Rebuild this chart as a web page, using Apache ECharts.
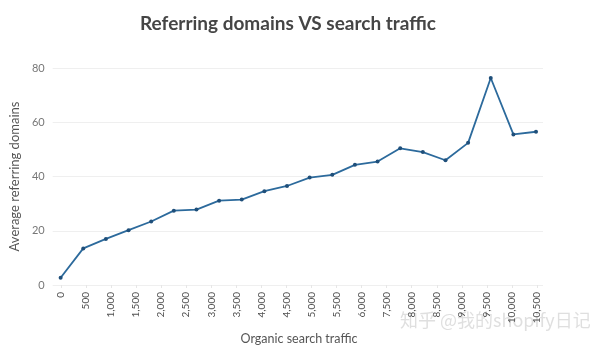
<!DOCTYPE html>
<html>
<head>
<meta charset="utf-8">
<script src="https://cdn.jsdelivr.net/npm/echarts@6/dist/echarts.min.js"></script>
<style>
  html, body { margin: 0; padding: 0; background: #fff; }
  #chart { width: 600px; height: 350px; }
</style>
</head>
<body>
<div id="chart"></div>
<script>
// Organic search traffic buckets (step 500) and the average referring domains per bucket
const trafficBuckets = [0, 500, 1000, 1500, 2000, 2500, 3000, 3500, 4000, 4500, 5000,
  5500, 6000, 6500, 7000, 7500, 8000, 8500, 9000, 9500, 10000, 10500];
const avgReferringDomains = [2.7, 13.5, 17.0, 20.2, 23.4, 27.4, 27.8, 31.1, 31.5, 34.6, 36.5,
  39.6, 40.6, 44.3, 45.5, 50.4, 49.0, 46.0, 52.4, 76.3, 55.5, 56.5];

// Tick labels printed along the horizontal axis
const xTickLabels = ['0', '500', '1,000', '1,500', '2,000', '2,500', '3,000', '3,500', '4,000',
  '4,500', '5,000', '5,500', '6,000', '7,500', '8,000', '8,500', '9,000', '9,500', '10,000', '10,500'];

const yTicks = { min: 0, max: 80, interval: 20 };

const FONT = 'Lato';
const seriesData = trafficBuckets.map((t, i) => [t, avgReferringDomains[i]]);

const chart = echarts.init(document.getElementById('chart'), null, { renderer: 'canvas' });
chart.setOption({
  animation: false,
  backgroundColor: '#ffffff',
  title: {
    text: 'Referring domains VS search traffic',
    left: 283,
    top: 9,
    textAlign: 'center',
    textStyle: { fontFamily: FONT, fontWeight: 'bold', fontSize: 19, color: '#454545' }
  },
  grid: [
    { left: 52, right: 57, top: 68, bottom: 65 },
    { left: 61, right: 63, top: 68, bottom: 65 }
  ],
  xAxis: [
    {
      type: 'value',
      gridIndex: 0,
      min: -176,
      max: 10654,
      axisLine: { show: false },
      axisTick: { show: false },
      axisLabel: { show: false },
      splitLine: { show: false }
    },
    {
      type: 'category',
      gridIndex: 1,
      data: xTickLabels,
      boundaryGap: false,
      name: 'Organic search traffic',
      nameLocation: 'middle',
      nameGap: 47,
      nameTextStyle: { fontFamily: FONT, fontSize: 12.5, color: '#555' },
      axisLine: { show: false },
      axisTick: { show: true, length: 3, lineStyle: { color: '#e6e6e6' } },
      axisLabel: {
        rotate: 90,
        margin: 7,
        fontFamily: FONT,
        fontSize: 10,
        color: '#505050',
        interval: 0
      },
      splitLine: { show: false }
    }
  ],
  yAxis: [
    {
      type: 'value',
      gridIndex: 0,
      min: yTicks.min,
      max: yTicks.max,
      interval: yTicks.interval,
      name: 'Average referring domains',
      nameLocation: 'middle',
      nameGap: 30,
      nameTextStyle: { fontFamily: FONT, fontSize: 13, color: '#555' },
      axisLine: { show: false },
      axisTick: { show: false },
      axisLabel: { fontFamily: FONT, fontSize: 11, color: '#777', margin: 8 },
      splitLine: { show: true, lineStyle: { color: '#efefef', width: 1 } }
    },
    {
      type: 'value',
      gridIndex: 1,
      min: yTicks.min,
      max: yTicks.max,
      show: false
    }
  ],
  series: [
    {
      type: 'line',
      xAxisIndex: 0,
      yAxisIndex: 0,
      data: seriesData,
      symbol: 'circle',
      symbolSize: 4,
      showSymbol: true,
      lineStyle: { color: '#2c6a9c', width: 1.8 },
      itemStyle: { color: '#1f4f7a' }
    }
  ],
  graphic: [
    {
      type: 'text',
      left: 400,
      top: 311,
      style: {
        text: '知乎 @我的shopify日记',
        font: '18px "Noto Sans CJK SC"',
        fill: 'rgba(185,185,185,0.45)'
      }
    }
  ]
});
</script>
</body>
</html>
